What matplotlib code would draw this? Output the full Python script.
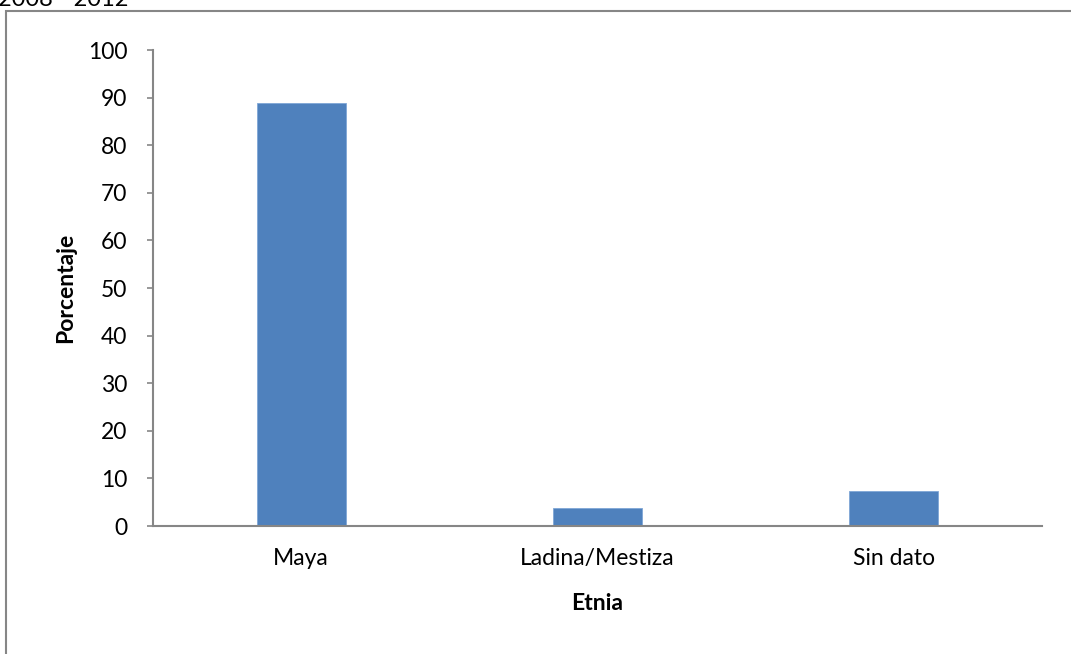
import matplotlib.pyplot as plt
from matplotlib.patches import Rectangle

# Distribución por etnia, 2008 - 2012
etnias = ['Maya', 'Ladina/Mestiza', 'Sin dato']
porcentajes = [88.9, 3.8, 7.3]
yticks = [0, 10, 20, 30, 40, 50, 60, 70, 80, 90, 100]

plt.rcParams['font.family'] = ['Lato', 'DejaVu Sans']

fig = plt.figure(figsize=(10.71, 6.54), dpi=100)
ax = fig.add_axes([0.1429, 0.1957, 0.8301, 0.7278])

gris = '#868686'
ax.bar(range(len(etnias)), porcentajes, width=0.30, color='#4F81BD',
       edgecolor='#7FA6D6', linewidth=0.6)

ax.set_xlim(-0.5, 2.5)
ax.set_ylim(0, 100)
ax.set_yticks(yticks)
ax.set_xticks(range(len(etnias)))
ax.set_xticklabels(etnias)

for side in ['top', 'right']:
    ax.spines[side].set_visible(False)
for side in ['left', 'bottom']:
    ax.spines[side].set_color(gris)
    ax.spines[side].set_linewidth(1.5)

ax.tick_params(axis='y', direction='out', length=4.5, width=1.2, color=gris,
               pad=14, labelsize=16.5)
ax.tick_params(axis='x', length=0, pad=16, labelsize=16.5)

ax.set_ylabel('Porcentaje', fontsize=16.5, fontweight='bold', va='center')
ax.yaxis.set_label_coords(-0.098, 0.5)
ax.set_xlabel('Etnia', fontsize=16.5, fontweight='bold', va='center')
ax.xaxis.set_label_coords(0.5, -0.162)

# marco del área del gráfico
fig.patches.append(Rectangle((0.0056, -0.05), 1.1, 1.0332, transform=fig.transFigure,
                             fill=False, edgecolor=gris, linewidth=1.5))

fig.text(-0.002, 1 - 6 / 654, '2008 - 2012', fontsize=17, va='baseline', ha='left')

fig.savefig('out.png', dpi=100)
